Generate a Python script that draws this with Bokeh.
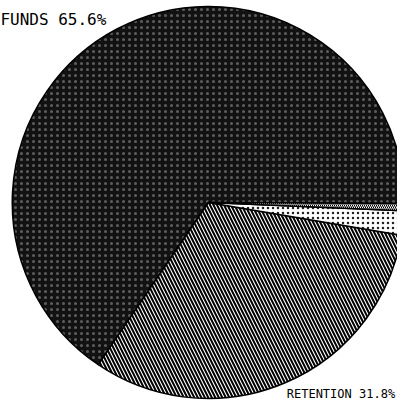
import numpy as np
from bokeh.plotting import figure
from bokeh.models import Range1d, ColumnDataSource
from bokeh.core.properties import value
from bokeh.embed import file_html
from bokeh.resources import INLINE

# ---- data ----
categories = ["FUNDS", "RETENTION", "RESERVES", "OTHER"]
shares = [65.6, 31.8, 2.0, 0.6]
labels = ["FUNDS 65.6%", "RETENTION 31.8%"]

# ---- styles ----
styles = [
    dict(fill_color="#121212", hatch_pattern="dot", hatch_color="#5e5e5e", hatch_scale=6, hatch_weight=1),
    dict(fill_color="white", hatch_pattern="left_diagonal_line", hatch_color="black", hatch_scale=7, hatch_weight=2),
    dict(fill_color="white", hatch_pattern="dot", hatch_color="#222222", hatch_scale=5, hatch_weight=1),
    dict(fill_color="white", hatch_pattern="left_diagonal_line", hatch_color="black", hatch_scale=4, hatch_weight=1),
]

cx, cy, r = 212, 203, 200
start_offset = np.deg2rad(-0.3)

p = figure(width=397, height=401, x_range=Range1d(0, 405), y_range=Range1d(0, 409),
           output_backend="svg", toolbar_location=None, min_border=0,
           x_axis_location=None, y_axis_location=None)
p.grid.visible = False
p.outline_line_color = None
p.background_fill_color = "white"
p.border_fill_color = "white"

fr = np.array(shares) / sum(shares)
ends = np.cumsum(fr) * 2 * np.pi + start_offset
starts = ends - fr * 2 * np.pi

for i, cat in enumerate(categories):
    src = ColumnDataSource(dict(x=[cx], y=[cy], s=[starts[i]], e=[ends[i]], cat=[cat]))
    p.wedge(x="x", y="y", radius=r, start_angle="s", end_angle="e", source=src,
            line_color="black", line_width=1.5, **styles[i])

p.text(x=[108], y=[390], text=[labels[0]], text_align="right", text_baseline="alphabetic",
       text_font=value("DejaVu Sans Mono"), text_font_size="16px", text_color="black")
p.text(x=[292], y=[8], text=[labels[1]], text_align="left", text_baseline="alphabetic",
       text_font=value("DejaVu Sans Mono"), text_font_size="12px", text_color="black")

open("out.html", "w").write(file_html(p, INLINE))
